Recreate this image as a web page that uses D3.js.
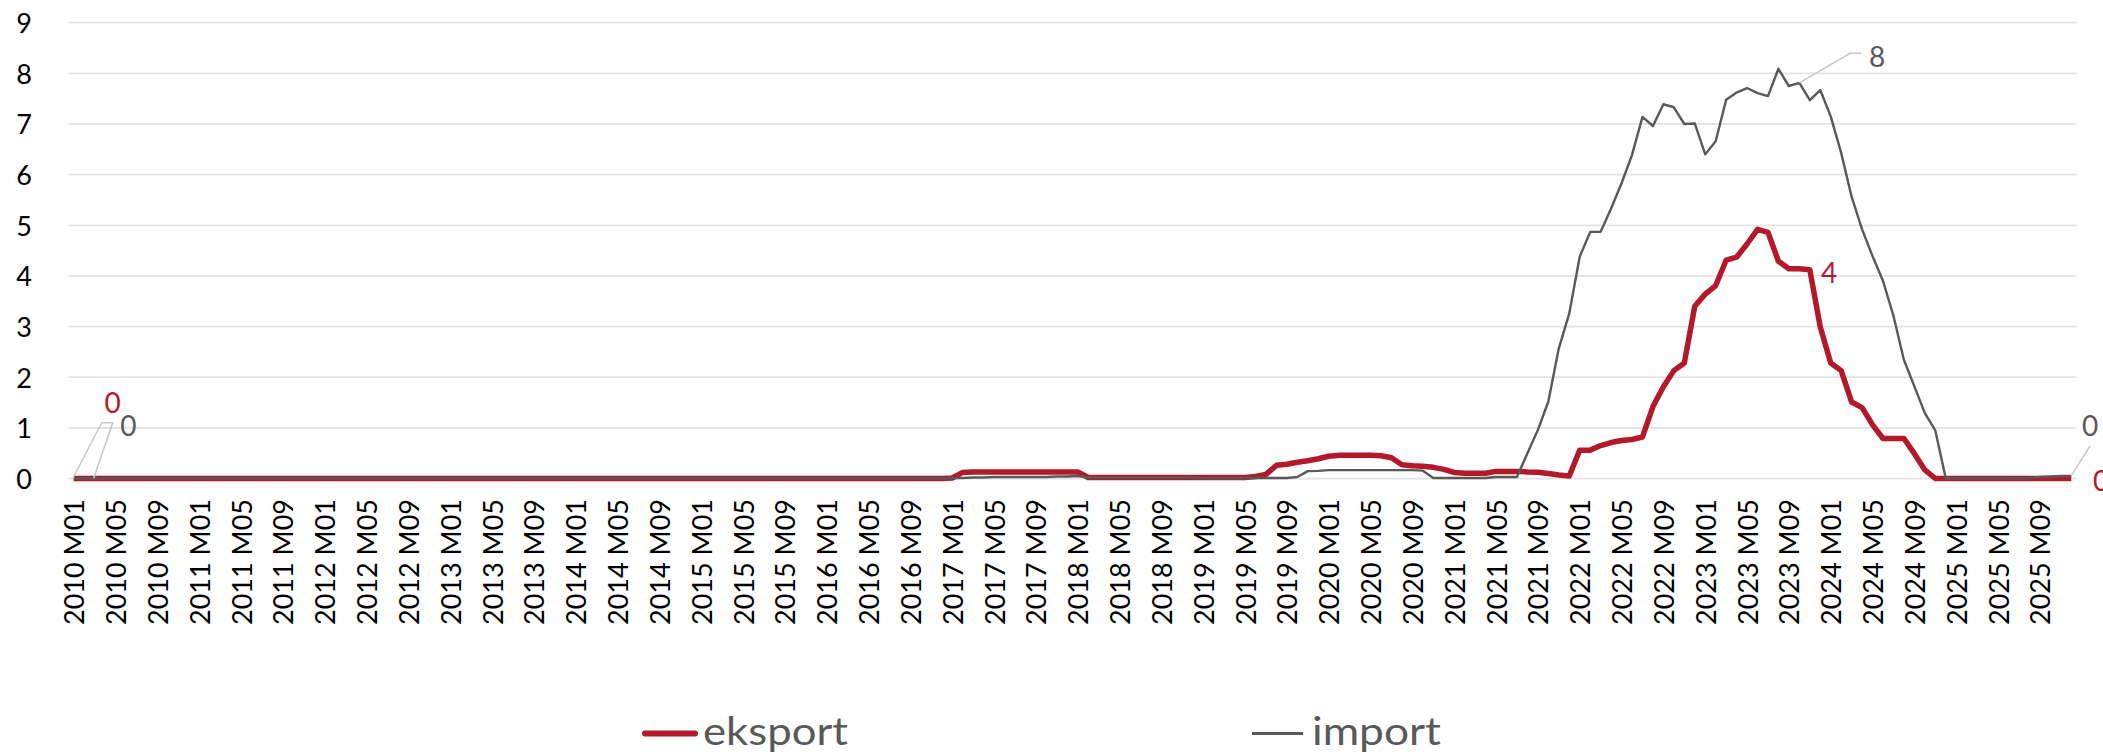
<!DOCTYPE html>
<html>
<head>
<meta charset="utf-8">
<script src="https://cdn.jsdelivr.net/npm/d3@7"></script>
<style>
  html, body { margin: 0; padding: 0; background: #fff; }
  svg { display: block; font-family: Lato, "Open Sans", sans-serif; }
  .grid line { stroke: #e3e3e3; stroke-width: 1.75; }
  .y-label, .x-label { fill: #000; font-size: 27px; }
  .data-label { font-size: 28px; }
  .leader { fill: none; stroke: #c8c8c8; stroke-width: 1.5; }
  .legend-text { fill: #595959; font-size: 39px; }
</style>
</head>
<body>
<svg id="chart" width="2103" height="755"></svg>
<script>
const YEARS = d3.range(2010, 2026);
const MONTHS = ["01", "02", "03", "04", "05", "06", "07", "08", "09", "10", "11", "12"];
const Y_TICKS = [0, 1, 2, 3, 4, 5, 6, 7, 8, 9];

// eksport, one row per year (M01..M12)
const EKSPORT = [
  0, 0, 0, 0, 0, 0, 0, 0, 0, 0, 0, 0,
  0, 0, 0, 0, 0, 0, 0, 0, 0, 0, 0, 0,
  0, 0, 0, 0, 0, 0, 0, 0, 0, 0, 0, 0,
  0, 0, 0, 0, 0, 0, 0, 0, 0, 0, 0, 0,
  0, 0, 0, 0, 0, 0, 0, 0, 0, 0, 0, 0,
  0, 0, 0, 0, 0, 0, 0, 0, 0, 0, 0, 0,
  0, 0, 0, 0, 0, 0, 0, 0, 0, 0, 0, 0,
  0.01, 0.12, 0.13, 0.13, 0.13, 0.13, 0.13, 0.13, 0.13, 0.13, 0.13, 0.13,
  0.13, 0.02, 0.02, 0.02, 0.02, 0.02, 0.02, 0.02, 0.02, 0.02, 0.02, 0.02,
  0.02, 0.02, 0.02, 0.02, 0.02, 0.04, 0.08, 0.26, 0.28, 0.32, 0.35, 0.39,
  0.44, 0.46, 0.46, 0.46, 0.46, 0.45, 0.41, 0.27, 0.25, 0.24, 0.22, 0.18,
  0.12, 0.105, 0.105, 0.105, 0.14, 0.14, 0.14, 0.13, 0.125, 0.10, 0.07, 0.05,
  0.56, 0.56, 0.65, 0.71, 0.75, 0.77, 0.82, 1.42, 1.81, 2.13, 2.28, 3.40,
  3.64, 3.81, 4.31, 4.37, 4.63, 4.92, 4.86, 4.29, 4.14, 4.14, 4.12, 2.99,
  2.28, 2.13, 1.51, 1.40, 1.06, 0.79, 0.79, 0.79, 0.49, 0.17, 0, 0,
  0, 0, 0, 0, 0, 0, 0, 0, 0, 0, 0, 0
];

// import, one row per year (M01..M12)
const IMPORT = [
  0, 0, 0, 0, 0, 0, 0, 0, 0, 0, 0, 0,
  0, 0, 0, 0, 0, 0, 0, 0, 0, 0, 0, 0,
  0, 0, 0, 0, 0, 0, 0, 0, 0, 0, 0, 0,
  0, 0, 0, 0, 0, 0, 0, 0, 0, 0, 0, 0,
  0, 0, 0, 0, 0, 0, 0, 0, 0, 0, 0, 0,
  0, 0, 0, 0, 0, 0, 0, 0, 0, 0, 0, 0,
  0, 0, 0, 0, 0, 0, 0, 0, 0, 0, 0, 0,
  0.01, 0.01, 0.02, 0.02, 0.03, 0.03, 0.03, 0.03, 0.03, 0.03, 0.04, 0.04,
  0.05, 0.02, 0.02, 0.02, 0.02, 0.02, 0.02, 0.02, 0.02, 0.02, 0.02, 0.02,
  0.01, 0.01, 0.01, 0.01, 0.01, 0.01, 0.01, 0.01, 0.01, 0.03, 0.145, 0.15,
  0.165, 0.165, 0.165, 0.165, 0.165, 0.165, 0.165, 0.165, 0.165, 0.155, 0.01, 0.01,
  0.01, 0.01, 0.01, 0.01, 0.03, 0.03, 0.03, 0.50, 0.96, 1.52, 2.57, 3.26,
  4.38, 4.87, 4.87, 5.33, 5.83, 6.39, 7.14, 6.96, 7.39, 7.33, 7.00, 7.01,
  6.40, 6.66, 7.48, 7.62, 7.71, 7.61, 7.55, 8.09, 7.75, 7.81, 7.47, 7.67,
  7.15, 6.43, 5.56, 4.92, 4.39, 3.90, 3.21, 2.34, 1.82, 1.29, 0.95, 0,
  0, 0, 0, 0, 0, 0, 0, 0.01, 0.03, 0.04, 0.05, 0.05
];

const SERIES = [
  { name: "eksport", values: EKSPORT, color: "#b4182b", width: 5.5 },
  { name: "import", values: IMPORT, color: "#595959", width: 2.4 }
];

const CATEGORIES = YEARS.flatMap(y => MONTHS.map(m => `${y} M${m}`));

const svg = d3.select("#chart");
svg.append("rect").attr("width", 2103).attr("height", 755).attr("fill", "#fff");

const x = d3.scaleBand().domain(CATEGORIES).range([68.5, 2076.5]);
const y = d3.scaleLinear().domain([0, 9]).range([478.5, 22.7]);
const cx = c => x(c) + x.bandwidth() / 2;

// gridlines
svg.append("g").attr("class", "grid")
  .selectAll("line")
  .data(Y_TICKS)
  .join("line")
  .attr("x1", x.range()[0])
  .attr("x2", x.range()[1])
  .attr("y1", d => y(d))
  .attr("y2", d => y(d));

// y labels
svg.append("g")
  .selectAll("text")
  .data(Y_TICKS)
  .join("text")
  .attr("class", "y-label")
  .attr("x", 32)
  .attr("y", d => y(d))
  .attr("text-anchor", "end")
  .attr("dominant-baseline", "central")
  .text(d => d);

// x labels, every 4th month
svg.append("g")
  .selectAll("text")
  .data(CATEGORIES.filter((d, i) => i % 4 === 0))
  .join("text")
  .attr("class", "x-label")
  .attr("transform", d => `translate(${cx(d)},499) rotate(-90)`)
  .attr("text-anchor", "end")
  .attr("dominant-baseline", "central")
  .text(d => d);

// series
const line = d3.line()
  .x((d, i) => cx(CATEGORIES[i]))
  .y(d => y(d));

svg.append("g")
  .selectAll("path")
  .data(SERIES)
  .join("path")
  .attr("fill", "none")
  .attr("stroke", d => d.color)
  .attr("stroke-width", d => d.width)
  .attr("stroke-linejoin", "round")
  .attr("d", d => line(d.values));

// data labels + leader lines
const last = CATEGORIES.length - 1;
const labels = svg.append("g");

labels.append("path").attr("class", "leader")
  .attr("d", d3.line()([
    [cx(CATEGORIES[0]) - 1, y(0)], [101.7, 422.7], [112.7, 422.7], [cx(CATEGORIES[2]) - 1, y(0)]
  ]));
labels.append("path").attr("class", "leader")
  .attr("d", d3.line()([[cx(CATEGORIES[165]), y(IMPORT[165])], [1850, 53.3], [1861, 53.3]]));
labels.append("path").attr("class", "leader")
  .attr("d", d3.line()([[cx(CATEGORIES[last]), y(IMPORT[last])], [2090, 446]]));

const dataLabels = [
  { text: d3.format(".0f")(EKSPORT[0]), x: 112.7, y: 401.7, color: SERIES[0].color },
  { text: d3.format(".0f")(IMPORT[0]), x: 128.3, y: 424.5, color: SERIES[1].color },
  { text: d3.format(".0f")(IMPORT[165]), x: 1877, y: 55.5, color: SERIES[1].color },
  { text: d3.format(".0f")(EKSPORT[166]), x: 1829, y: 271.7, color: SERIES[0].color },
  { text: d3.format(".0f")(IMPORT[last]), x: 2090, y: 424.5, color: SERIES[1].color },
  { text: d3.format(".0f")(EKSPORT[last]), x: 2101, y: 480, color: SERIES[0].color }
];
labels.selectAll("text")
  .data(dataLabels)
  .join("text")
  .attr("class", "data-label")
  .attr("x", d => d.x)
  .attr("y", d => d.y)
  .attr("fill", d => d.color)
  .attr("text-anchor", "middle")
  .attr("dominant-baseline", "central")
  .text(d => d.text);

// legend
const legendItems = [
  { s: SERIES[0], x1: 645, x2: 695, tx: 703, len: 145 },
  { s: SERIES[1], x1: 1252, x2: 1303, tx: 1312, len: 129 }
];
const lg = svg.append("g");
lg.selectAll("line")
  .data(legendItems)
  .join("line")
  .attr("x1", d => d.x1).attr("x2", d => d.x2)
  .attr("y1", 733.5).attr("y2", 733.5)
  .attr("stroke", d => d.s.color)
  .attr("stroke-width", d => d.s.width + 0.5)
  .attr("stroke-linecap", d => d.s.name === "eksport" ? "round" : "butt");
lg.selectAll("text")
  .data(legendItems)
  .join("text")
  .attr("class", "legend-text")
  .attr("x", d => d.tx)
  .attr("y", 745)
  .attr("textLength", d => d.len)
  .attr("lengthAdjust", "spacingAndGlyphs")
  .text(d => d.s.name);
</script>
</body>
</html>
